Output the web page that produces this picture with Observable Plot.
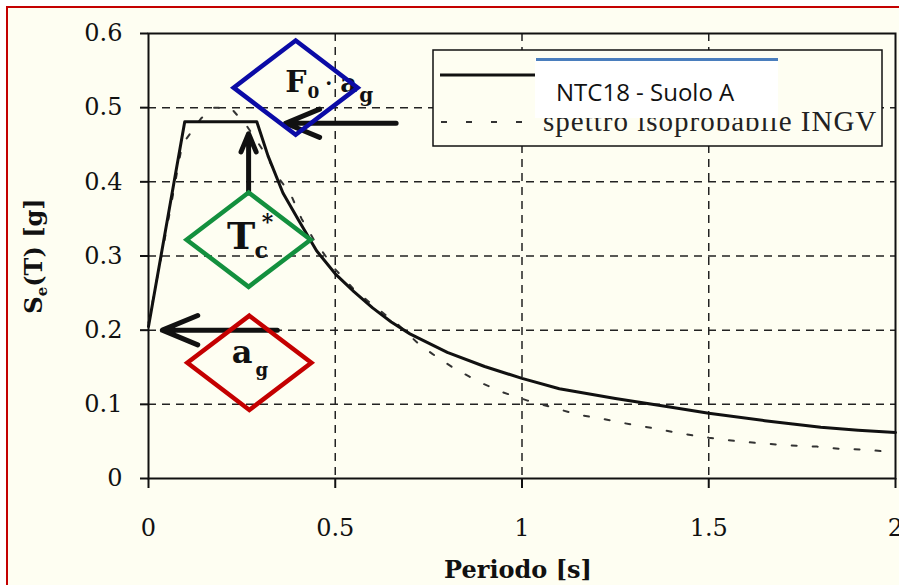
<!DOCTYPE html>
<html><head><meta charset="utf-8">
<script src="https://cdn.jsdelivr.net/npm/d3@7"></script>
<script src="https://cdn.jsdelivr.net/npm/@observablehq/plot@0.6"></script>
<style>
html,body{margin:0;padding:0;background:#fff;}
#wrap{position:relative;width:899px;height:585px;overflow:hidden;}
#paper{position:absolute;left:6px;top:6px;right:-4px;bottom:-4px;background:#fefef2;border-left:2.5px solid #c40000;border-top:2.5px solid #c40000;}
#wrap svg{position:absolute;left:0;top:0;}
</style></head><body><div id="wrap"><div id="paper"></div></div>
<script>
// ---- data ----
const xTicks = [0, 0.5, 1, 1.5, 2];
const yTicks = [0, 0.1, 0.2, 0.3, 0.4, 0.5, 0.6];

// NTC18 - Suolo A (solid)
const ntcT = [0, 0.097, 0.29, 0.32, 0.36, 0.4, 0.45, 0.5, 0.55, 0.6, 0.65, 0.7, 0.8, 0.9, 1.0, 1.1, 1.25, 1.4, 1.5, 1.65, 1.8, 1.9, 2.0];
const ntcS = [0.205, 0.481, 0.481, 0.435, 0.385, 0.35, 0.307, 0.276, 0.252, 0.23, 0.211, 0.195, 0.17, 0.151, 0.135, 0.121, 0.108, 0.096, 0.088, 0.078, 0.069, 0.065, 0.062];

// spettro isoprobabile INGV (dotted)
const ingvT = [0, 0.05, 0.09, 0.14, 0.17, 0.22, 0.265, 0.31, 0.35, 0.38, 0.41, 0.445, 0.5, 0.55, 0.61, 0.665, 0.72, 0.76, 0.82, 0.89, 0.95, 1.015, 1.08, 1.15, 1.22, 1.29, 1.35, 1.42, 1.5, 1.58, 1.65, 1.72, 1.79, 1.85, 1.92, 2.0];
const ingvS = [0.21, 0.34, 0.45, 0.485, 0.5, 0.5, 0.474, 0.44, 0.404, 0.384, 0.35, 0.32, 0.282, 0.255, 0.23, 0.209, 0.183, 0.168, 0.148, 0.129, 0.116, 0.105, 0.096, 0.086, 0.08, 0.073, 0.068, 0.061, 0.055, 0.05, 0.047, 0.0445, 0.043, 0.04, 0.039, 0.035];

// legend labels
const seriesNames = ["NTC18 - Suolo A", "spettro isoprobabile INGV"];

// annotations (diamond anchors in data units) and arrows
const annNames = ["F0ag", "Tc", "ag"];
const annT = [0.394, 0.268, 0.27];
const annS = [0.527, 0.322, 0.156];
const annColors = ["#0b0ba6", "#13903e", "#c40000"];
const arrowT1 = [0.663, 0.268, 0.345];
const arrowS1 = [0.479, 0.385, 0.2];
const arrowT2 = [0.367, 0.268, 0.037];
const arrowS2 = [0.479, 0.465, 0.2];

// ---- build tables ----
const ntc = ntcT.map((t, i) => ({T: t, S: ntcS[i]}));
const ingv = ingvT.map((t, i) => ({T: t, S: ingvS[i]}));
const anns = annNames.map((n, i) => ({name: n, T: annT[i], S: annS[i], color: annColors[i]}));
const arrows = arrowT1.map((t, i) => ({x1: t, y1: arrowS1[i], x2: arrowT2[i], y2: arrowS2[i]}));

const diamondWide = {
  draw(ctx, size) {
    const r = Math.sqrt(size / Math.PI), h = r * 0.76;
    ctx.moveTo(0, -h); ctx.lineTo(r, 0); ctx.lineTo(0, h); ctx.lineTo(-r, 0); ctx.closePath();
  }
};

const bg = "#fefef2";
const serif = "DejaVu Serif";

const plot = Plot.plot({
  width: 899, height: 585,
  marginLeft: 148, marginRight: 4, marginTop: 33, marginBottom: 107,
  x: {domain: [0, 2]},
  y: {domain: [0, 0.6]},
  color: {type: "identity"},
  style: {background: "transparent", fontFamily: serif, fontSize: "24px", color: "#111"},
  marks: [
    Plot.gridX({ticks: xTicks.slice(1, -1), stroke: "#222", strokeOpacity: 1, strokeWidth: 1.5, strokeDasharray: "8,6"}),
    Plot.gridY({ticks: yTicks.slice(1, -1), stroke: "#222", strokeOpacity: 1, strokeWidth: 1.5, strokeDasharray: "8,6"}),
    Plot.axisX({ticks: xTicks, tickSize: 10, tickPadding: 30, strokeWidth: 2, label: null, tickFormat: d => String(d)}),
    Plot.axisY({ticks: yTicks, tickSize: 8, tickPadding: 18, strokeWidth: 2, label: null, tickFormat: d => String(d)}),
    Plot.frame({stroke: "#111", strokeWidth: 2}),
    Plot.line(ingv, {x: "T", y: "S", stroke: "#333", strokeWidth: 2, strokeDasharray: "5,16"}),
    Plot.line(ntc, {x: "T", y: "S", stroke: "#111", strokeWidth: 3}),
    Plot.arrow(arrows, {x1: "x1", y1: "y1", x2: "x2", y2: "y2", stroke: "#111", strokeWidth: 5, headLength: 16, headAngle: 45}),
    Plot.dot(anns, {x: "T", y: "S", r: 62, symbol: diamondWide, stroke: "color", fill: "none", strokeWidth: 4.5, strokeLinejoin: "miter"})
  ]
});

document.getElementById("wrap").appendChild(plot);

const sx = plot.scale("x"), sy = plot.scale("y");
const svg = d3.select(plot);

// ---- annotation labels (under diamonds) ----
const lab = svg.insert("g", "g[aria-label=dot]").attr("font-family", serif).attr("font-weight", "bold")
  .attr("fill", "#111").attr("text-anchor", "start");
{
  const a = anns[0], cx = sx.apply(a.T), cy = sy.apply(a.S);
  const t = lab.append("text").attr("x", cx - 10).attr("y", cy + 5).attr("font-size", 30);
  t.append("tspan").text("F");
  t.append("tspan").attr("font-size", 17).attr("dy", 6).attr("dx", 1).text("0");
  t.append("tspan").attr("font-size", 20).attr("dy", -8).attr("dx", 6).text("·");
  t.append("tspan").attr("font-size", 26).attr("dx", 8).attr("dy", 2).text("a");
  t.append("tspan").attr("font-size", 20).attr("dx", 2).attr("dy", 10).text("g");
}
{
  const a = anns[1], cx = sx.apply(a.T), cy = sy.apply(a.S);
  const t = lab.append("text").attr("x", cx - 21).attr("y", cy + 10).attr("font-size", 38);
  t.append("tspan").text("T");
  t.append("tspan").attr("font-size", 22).attr("dx", -1).attr("dy", 9).text("c");
  t.append("tspan").attr("font-size", 22).attr("dx", -6).attr("dy", -29).text("*");
}
{
  const a = anns[2], cx = sx.apply(a.T), cy = sy.apply(a.S);
  const t = lab.append("text").attr("x", cx - 17).attr("y", cy + 1).attr("font-size", 32);
  t.append("tspan").text("a");
  t.append("tspan").attr("font-size", 18).attr("dx", 3).attr("dy", 13).text("g");
}

// ---- axis titles ----
svg.append("text").attr("x", 518).attr("y", 578).attr("text-anchor", "middle")
  .attr("font-family", serif).attr("font-weight", "bold").attr("font-size", 24).attr("fill", "#111")
  .text("Periodo [s]");
{
  const t = svg.append("text").attr("transform", "translate(42,256) rotate(-90)").attr("text-anchor", "middle")
    .attr("font-family", serif).attr("font-weight", "bold").attr("font-size", 24).attr("fill", "#111");
  t.append("tspan").text("S");
  t.append("tspan").attr("font-size", 15).attr("dy", 5).text("e");
  t.append("tspan").attr("dy", -5).text("(T) [g]");
}

// ---- legend ----
const lg = svg.append("g").attr("text-anchor", "start");
lg.append("rect").attr("x", 433).attr("y", 50).attr("width", 449).attr("height", 96)
  .attr("fill", bg).attr("stroke", "#111").attr("stroke-width", 1.5);
lg.append("line").attr("x1", 440).attr("x2", 535).attr("y1", 75).attr("y2", 75).attr("stroke", "#111").attr("stroke-width", 3);
lg.append("line").attr("x1", 441).attr("x2", 532).attr("y1", 122).attr("y2", 122).attr("stroke", "#333").attr("stroke-width", 2).attr("stroke-dasharray", "6,19");
lg.append("text").attr("x", 543).attr("y", 131).attr("font-family", "Liberation Serif").attr("font-size", 29)
  .attr("letter-spacing", 1).attr("fill", "#222").text(seriesNames[1]);
lg.append("rect").attr("x", 535).attr("y", 58).attr("width", 243).attr("height", 60).attr("fill", "#fff");
lg.append("line").attr("x1", 536).attr("x2", 778).attr("y1", 59.5).attr("y2", 59.5).attr("stroke", "#4a7ebd").attr("stroke-width", 3);
lg.append("text").attr("x", 556).attr("y", 101).attr("font-family", "Open Sans").attr("font-size", 24)
  .attr("fill", "#111").text(seriesNames[0]);
</script>
</body></html>
